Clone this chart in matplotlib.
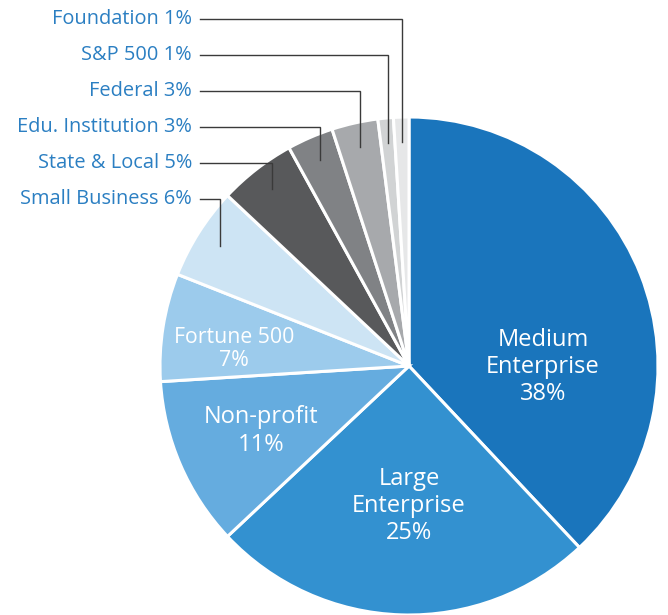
import numpy as np
import matplotlib.pyplot as plt

plt.rcParams['font.family'] = ['Open Sans', 'DejaVu Sans']

# data
segments = ['Medium\nEnterprise', 'Large\nEnterprise', 'Non-profit', 'Fortune 500',
            'Small Business', 'State & Local', 'Edu. Institution', 'Federal',
            'S&P 500', 'Foundation']
shares = [38, 25, 11, 7, 6, 5, 3, 3, 1, 1]
colors = ['#1a75bc', '#3391d0', '#65acdf', '#9ccbec', '#cde4f4',
          '#58595b', '#808285', '#a7a9ac', '#d1d3d4', '#e6e7e8']

# first four get labels inside, the rest get leader lines
inside_pos = [(543, 367), (409, 506), (261, 431), (234, 349)]
inside_size = [17, 17, 17, 15.3]

W, H = 668, 615
cx, cy, R = 409, H - 366, 249

fig = plt.figure(figsize=(W / 100, H / 100), dpi=100)
ax = fig.add_axes([0, 0, 1, 1])

wedges, _ = ax.pie(shares, colors=colors, startangle=90, counterclock=False,
                   center=(cx, cy), radius=R,
                   wedgeprops=dict(edgecolor='white', linewidth=2.2))
ax.set_xlim(0, W)
ax.set_ylim(0, H)
ax.set_aspect('equal')
ax.axis('off')

for i in range(4):
    px, py = inside_pos[i]
    ax.text(px, H - py, f"{segments[i]}\n{shares[i]}%", ha='center', va='center',
            color='white', fontsize=inside_size[i], linespacing=1.18)

# leader-line labels, from the bottom row (Small Business) up to Foundation
row_y = 199
for i in range(4, len(shares)):
    w = wedges[i]
    mid = np.deg2rad((w.theta1 + w.theta2) / 2)
    ex = cx + 0.9 * R * np.cos(mid)
    ey = cy + 0.9 * R * np.sin(mid)
    ly = H - row_y
    ax.plot([200, ex, ex], [ly, ly, ey], color='#3a3a3a', lw=1.0,
            solid_joinstyle='miter')
    ax.text(192, ly, f"{segments[i]} {shares[i]}%", ha='right', va='center',
            color='#2b7fc2', fontsize=14.4)
    row_y -= 36

fig.savefig('out.png', dpi=100)
